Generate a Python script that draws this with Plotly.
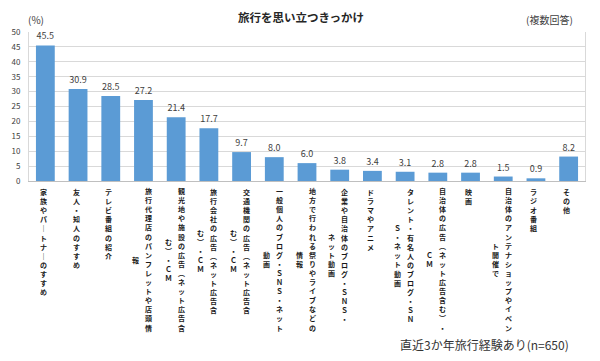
import plotly.graph_objects as go

# ---- data ----
tick_labels = [
    "家族やパートナーのすすめ",
    "友人・知人のすすめ",
    "テレビ番組の紹介",
    "旅行代理店のパンフレットや店頭情\n報",
    "観光地や施設の広告（ネット広告含\nむ）・CM",
    "旅行会社の広告（ネット広告含\nむ）・CM",
    "交通機関の広告（ネット広告含\nむ）・CM",
    "一般個人のブログ・SNS・ネット\n動画",
    "地方で行われる祭りやライブなどの\n情報",
    "企業や自治体のブログ・SNS・\nネット動画",
    "ドラマやアニメ",
    "タレント・有名人のブログ・SN\nS・ネット動画",
    "自治体の広告（ネット広告含む）・\nCM",
    "映画",
    "自治体のアンテナショップやイベン\nト開催で",
    "ラジオ番組",
    "その他",
]
categories = [t.replace("\n", "") for t in tick_labels]
values = [45.5, 30.9, 28.5, 27.2, 21.4, 17.7, 9.7, 8.0, 6.0, 3.8, 3.4, 3.1, 2.8, 2.8, 1.5, 0.9, 8.2]

title_text = "旅行を思い立つきっかけ"
unit_text = "(%)"
multi_text = "(複数回答)"
note_text = "直近3か年旅行経験あり(n=650)"

FONT = "Noto Sans CJK JP"
BAR = "#5B9BD5"
GRID = "#D9D9D9"

VERT = {"ー": "｜", "（": "︵", "）": "︶", "S": "Ｓ", "N": "Ｎ", "C": "Ｃ", "M": "Ｍ"}


def vertical(s):
    return "<br>".join(VERT.get(ch, ch) for ch in s)


fig = go.Figure(
    go.Bar(
        x=categories,
        y=values,
        marker=dict(color=BAR, line=dict(width=0)),
        texttemplate="%{y:.1f}",
        textposition="outside",
        textfont=dict(family=FONT, size=9, color="#404040"),
        cliponaxis=False,
        hoverinfo="x+y",
    )
)

LF = 7
PITCH = LF * 1.3
LABEL_FONT = dict(family=FONT, size=LF, color="#1a1a1a", weight="bold")
annotations = []
for cat, lab in zip(categories, tick_labels):
    cols = lab.split("\n")
    if len(cols) == 1:
        annotations.append(dict(
            x=cat, xref="x", y=0, yref="paper", yanchor="top", xanchor="center",
            yshift=-5, xshift=-2, text=vertical(cols[0]), showarrow=False,
            font=LABEL_FONT, borderpad=0,
        ))
    else:
        n1 = len(cols[0])
        ys = -6 - n1 * PITCH / 2
        for c, xs in zip(cols, (5, -8)):
            annotations.append(dict(
                x=cat, xref="x", y=0, yref="paper", yanchor="middle", xanchor="center",
                yshift=ys, xshift=xs, text=vertical(c), showarrow=False,
                font=LABEL_FONT, borderpad=0,
            ))

annotations += [
    dict(text="<b>" + title_text + "</b>", x=298, y=17, showarrow=False,
         font=dict(family=FONT, size=11.5, color="#262626")),
    dict(text=unit_text, x=30, y=20, showarrow=False,
         font=dict(family=FONT, size=10, color="#404040")),
    dict(text=multi_text, x=549, y=20, showarrow=False,
         font=dict(family=FONT, size=10, color="#404040")),
    dict(text=note_text, x=483, y=345, showarrow=False,
         font=dict(family=FONT, size=12, color="#333333")),
]
# convert pixel-positioned annotations (last four) to paper coords
W, H = 600, 361
ML, MR, MT, MB = 23, 15, 32, 180
pw, ph = W - ML - MR, H - MT - MB
for a in annotations[-4:]:
    a["x"] = (a["x"] - ML) / pw
    a["y"] = (H - MB - a["y"]) / ph
    a["xref"] = "paper"
    a["yref"] = "paper"
    a["xanchor"] = "center"
    a["yanchor"] = "middle"

fig.update_layout(
    width=W, height=H,
    margin=dict(l=ML, r=MR, t=MT, b=MB),
    paper_bgcolor="white", plot_bgcolor="white",
    bargap=0.425,
    showlegend=False,
    annotations=annotations,
    shapes=[dict(type="rect", xref="paper", yref="paper",
                 x0=(513 - ML) / pw, x1=(584 - ML) / pw, y0=0.99, y1=1.01,
                 fillcolor="white", line=dict(width=0), layer="above")],
    xaxis=dict(showticklabels=False, ticks="", showgrid=False,
               showline=True, linecolor="#BFBFBF", linewidth=1),
    yaxis=dict(range=[0, 50], dtick=5, showgrid=True, gridcolor=GRID, gridwidth=1,
               zeroline=False, showline=True, mirror=True, linecolor=GRID,
               ticks="", ticklabelstandoff=6,
               tickfont=dict(family=FONT, size=8, color="#404040")),
    font=dict(family=FONT),
)

fig.write_html(
    "out.html",
    config={"displayModeBar": False},
    post_script="document.body.style.margin='0';document.body.style.overflow='hidden';",
)
